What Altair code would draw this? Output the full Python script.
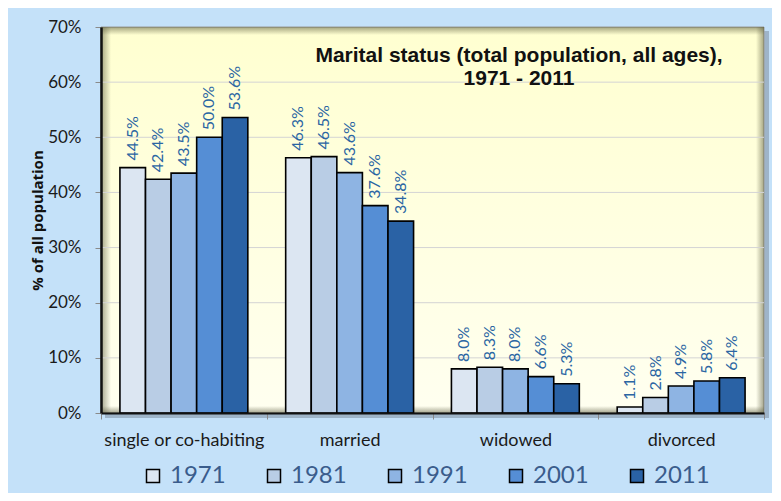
import altair as alt
import pandas as pd

categories = ["single or co-habiting", "married", "widowed", "divorced"]
years = ["1971", "1981", "1991", "2001", "2011"]
v1971 = [44.5, 46.3, 8.0, 1.1]
v1981 = [42.4, 46.5, 8.3, 2.8]
v1991 = [43.5, 43.6, 8.0, 4.9]
v2001 = [50.0, 37.6, 6.6, 5.8]
v2011 = [53.6, 34.8, 5.3, 6.4]
bar_colors = ["#DCE6F2", "#B9CDE5", "#8EB4E3", "#558ED5", "#2A62A5"]
y_ticks = [0, 10, 20, 30, 40, 50, 60, 70]
grid_values = [10, 20, 30, 40, 50, 60]
title_lines = ["Marital status (total population, all ages),", "1971 - 2011"]
y_title = "% of all population"

rows = []
for yr, vals in zip(years, [v1971, v1981, v1991, v2001, v2011]):
    for c, v in zip(categories, vals):
        rows.append({"category": c, "year": yr, "value": v, "label": f"{v:.1f}%"})
df = pd.DataFrame(rows)
grid_df = pd.DataFrame({"v": grid_values})

W, H = 663, 386
FONT = "Lato"

one = alt.Data(values=[{}])

def grad(x2, y2, c0, c1):
    return alt.LinearGradient(
        gradient="linear", x1=0, y1=0, x2=x2, y2=y2,
        stops=[alt.GradientStop(offset=0, color=c0), alt.GradientStop(offset=1, color=c1)],
    )

shadow = alt.Chart(one).mark_rect(fill="#7F8FA0", opacity=0.55).encode(
    x=alt.value(4), x2=alt.value(W + 5), y=alt.value(4), y2=alt.value(H + 5)
)
bg = alt.Chart(one).mark_rect(
    fill=grad(0, 1, "#FFFFD0", "#FFFFF0"), stroke="#9A9A9A", strokeWidth=1
).encode(x=alt.value(0), x2=alt.value(W), y=alt.value(0), y2=alt.value(H))

dark = "rgba(90,90,60,0.55)"
clear = "rgba(90,90,60,0)"
inset_l = alt.Chart(one).mark_rect(fill=grad(1, 0, dark, clear)).encode(
    x=alt.value(0), x2=alt.value(10), y=alt.value(0), y2=alt.value(H))
inset_t = alt.Chart(one).mark_rect(fill=grad(0, 1, dark, clear)).encode(
    x=alt.value(0), x2=alt.value(W), y=alt.value(0), y2=alt.value(8))
inset_r = alt.Chart(one).mark_rect(fill=grad(1, 0, clear, dark)).encode(
    x=alt.value(W - 8), x2=alt.value(W), y=alt.value(0), y2=alt.value(H))
inset_b = alt.Chart(one).mark_rect(fill=grad(0, 1, clear, dark)).encode(
    x=alt.value(0), x2=alt.value(W), y=alt.value(H - 7), y2=alt.value(H))

y_scale = alt.Scale(domain=[0, 70], nice=False)

grid = alt.Chart(grid_df).mark_rule(color="#D4D4D4", strokeWidth=1).encode(
    y=alt.Y("v:Q", scale=y_scale), x=alt.value(0), x2=alt.value(W)
)

x_enc = alt.X(
    "category:N", sort=categories,
    scale=alt.Scale(paddingInner=0, paddingOuter=0),
    axis=alt.Axis(
        title=None, labelAngle=0, tickBand="extent", labelFont=FONT, labelFontSize=18,
        labelColor="#1A1A1A", labelPadding=12, tickSize=6, tickColor="#8A8A8A",
        domainColor="#111111", domainWidth=2, zindex=1,
    ),
)
xoff = alt.XOffset("year:N", sort=years, scale=alt.Scale(paddingOuter=0.74, paddingInner=0))
y_enc = alt.Y(
    "value:Q", scale=y_scale,
    axis=alt.Axis(
        title=y_title, values=y_ticks, labelExpr="datum.value + '%'", grid=False,
        labelFont=FONT, labelFontSize=17, labelColor="#1A1A1A", labelPadding=14,
        tickSize=6, tickColor="#8A8A8A", domainColor="#111111", domainWidth=2.5,
        titleFont="Open Sans", titleFontSize=15, titleFontWeight="bold", titleColor="#111111",
        titleX=-64, titleY=H / 2, titleAngle=270, titleAlign="center", titleBaseline="middle",
        zindex=1,
    ),
)

bars = alt.Chart(df).mark_bar(stroke="#000000", strokeWidth=1.6, opacity=1).encode(
    x=x_enc, xOffset=xoff, y=y_enc,
    color=alt.Color(
        "year:N", sort=years, scale=alt.Scale(domain=years, range=bar_colors),
        legend=alt.Legend(
            orient="none", legendX=40, legendY=437, direction="horizontal", title=None,
            symbolType="square", symbolSize=169, symbolStrokeColor="#000000",
            symbolStrokeWidth=1.5, symbolOpacity=1, labelFont=FONT, labelFontSize=24,
            labelColor="#3A5C8C", labelOffset=5, columnPadding=36,
        ),
    ),
)

labels = alt.Chart(df).mark_text(
    angle=270, align="left", baseline="middle", dx=7, font=FONT, fontSize=16, color="#2B66A3"
).encode(x=alt.X("category:N", sort=categories), xOffset=alt.XOffset("year:N", sort=years),
         y=alt.Y("value:Q", scale=y_scale), text="label:N")

title = alt.Chart(one).mark_text(
    text=title_lines, font="Liberation Sans", fontSize=21, fontWeight="bold",
    color="#111111", align="center", baseline="top", lineHeight=23,
).encode(x=alt.value(418), y=alt.value(18))

chart = alt.layer(
    shadow, bg, inset_l, inset_t, inset_r, inset_b, grid, bars, labels, title
).properties(
    width=W, height=H, autosize="none",
    padding={"left": 93, "top": 19, "right": 8, "bottom": 80},
    background="#C4E1F9",
).configure_view(stroke=None, fill=None)

chart.save("out.html", embed_options={"renderer": "svg", "actions": False})
